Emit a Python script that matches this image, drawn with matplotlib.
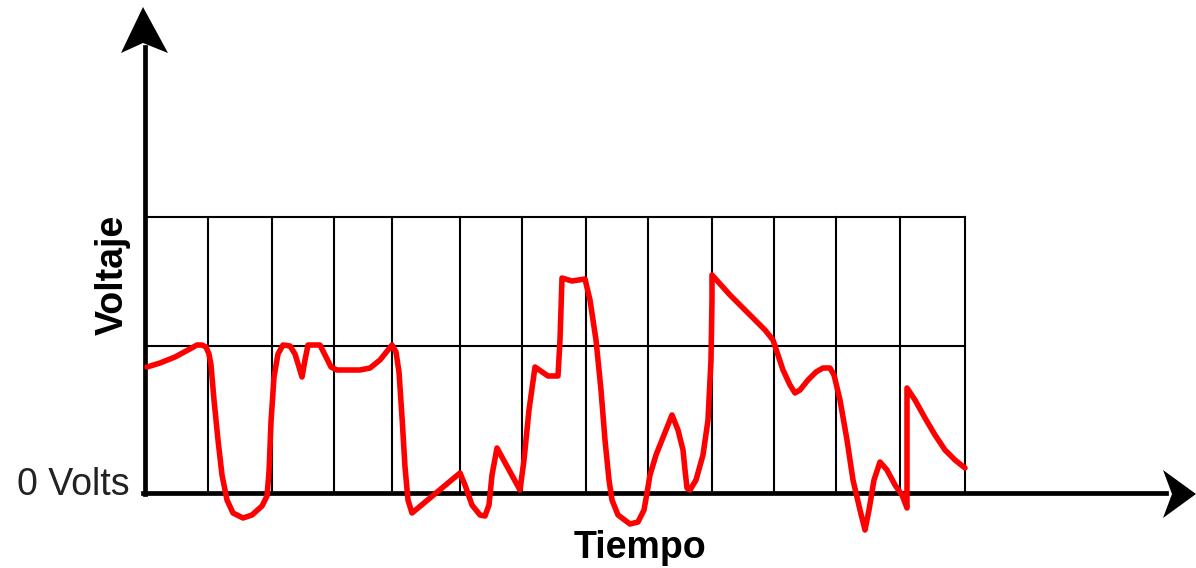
import matplotlib
matplotlib.use('Agg')
import matplotlib.pyplot as plt

# time positions (axis units, axis origin at t=145)
grid_t = [208, 272, 334, 392, 460, 522, 586, 648, 712, 774, 836, 900, 965]
grid_v = [146, 275]

# red signal trace (t, voltage above 0 Volts)
trace_t = [147, 160, 175, 188, 197, 202, 206, 209, 211, 214, 218, 222, 227, 233, 243, 252, 262, 267, 269,
           271, 274, 278, 283, 290, 295, 299, 302, 305, 308, 320, 325, 331, 337, 360, 370, 380, 388, 392,
           396, 399, 402, 405, 408, 412, 460, 465, 472, 480, 485, 489, 492, 497, 520, 524, 529, 535,
           548, 558, 560, 562, 572, 585, 590, 596, 601, 605, 609, 612, 618, 630, 638, 644, 647, 650,
           656, 664, 672, 678, 683, 685, 687, 690, 696, 703, 708, 711, 712, 712, 730, 750, 765, 773,
           778, 783, 790, 795, 800, 808, 816, 823, 830, 834, 840, 847, 853, 860, 865, 869, 874, 880,
           887, 895, 902, 907, 907, 915, 925, 935, 945, 955, 965]
trace_v = [125, 129, 135, 142, 147, 147, 145, 138, 127, 92, 52, 17, -8, -21, -26, -23, -14, -4, 20,
           70, 115, 138, 147, 146, 138, 125, 115, 132, 147, 147, 137, 125, 122, 122, 124, 132, 142, 147,
           140, 120, 75, 25, -8, -21, 19, 7, -13, -23, -24, -13, 17, 44, 2, 32, 82, 125,
           116, 116, 152, 214, 211, 213, 192, 152, 102, 52, 12, -8, -23, -32, -30, -18, -1, 17,
           37, 57, 77, 62, 42, 22, 4, 2, 12, 37, 72, 132, 192, 217, 197, 177, 162, 152,
           137, 122, 107, 99, 102, 112, 120, 124, 124, 117, 92, 52, 12, -18, -38, -18, 12, 30,
           22, 7, -3, -16, 104, 92, 74, 57, 42, 32, 24]

AXIS_T = 145
X_TIP = 1196
Y_TIP = 485

plt.rcParams['font.family'] = ['Liberation Sans', 'DejaVu Sans']

fig = plt.figure(figsize=(11.96, 5.68), dpi=100)
ax = fig.add_axes([0, 0, 1, 1])
ax.set_xlim(0, 1196)
ax.set_ylim(-76, 492)
ax.axis('off')

# grid
for t in grid_t:
    ax.plot([t, t], [0, grid_v[-1]], color='black', lw=1.5, zorder=1)
for v in grid_v:
    ax.plot([AXIS_T, grid_t[-1]], [v, v], color='black', lw=1.5, zorder=1)

# signal
ax.plot(trace_t, trace_v, color='#ff0000', lw=4.0, solid_joinstyle='round',
        solid_capstyle='round', zorder=3)

# axes with arrow heads
ax.plot([AXIS_T - 2, X_TIP - 30], [-1, -1], color='black', lw=3.4, zorder=2)
ax.plot([AXIS_T, AXIS_T], [-2, Y_TIP - 40], color='black', lw=3.4, zorder=2)
ax.fill([X_TIP, X_TIP - 33, X_TIP - 24, X_TIP - 33], [-2, 22, -2, -26], color='black', lw=0, zorder=2)
ax.fill([AXIS_T - 2, AXIS_T - 24, AXIS_T - 2, AXIS_T + 23], [Y_TIP, Y_TIP - 46, Y_TIP - 36, Y_TIP - 46],
        color='black', lw=0, zorder=2)

# labels
ax.text(130, 7, '0 Volts', ha='right', va='center', fontsize=27, color='#222222')
ax.text(640, -56, 'Tiempo', ha='center', va='center', fontsize=27, fontweight='bold')
ax.text(113, 217, 'Voltaje', ha='center', va='center', rotation=90, fontsize=27, fontweight='bold')

fig.savefig('out.png', dpi=100)
